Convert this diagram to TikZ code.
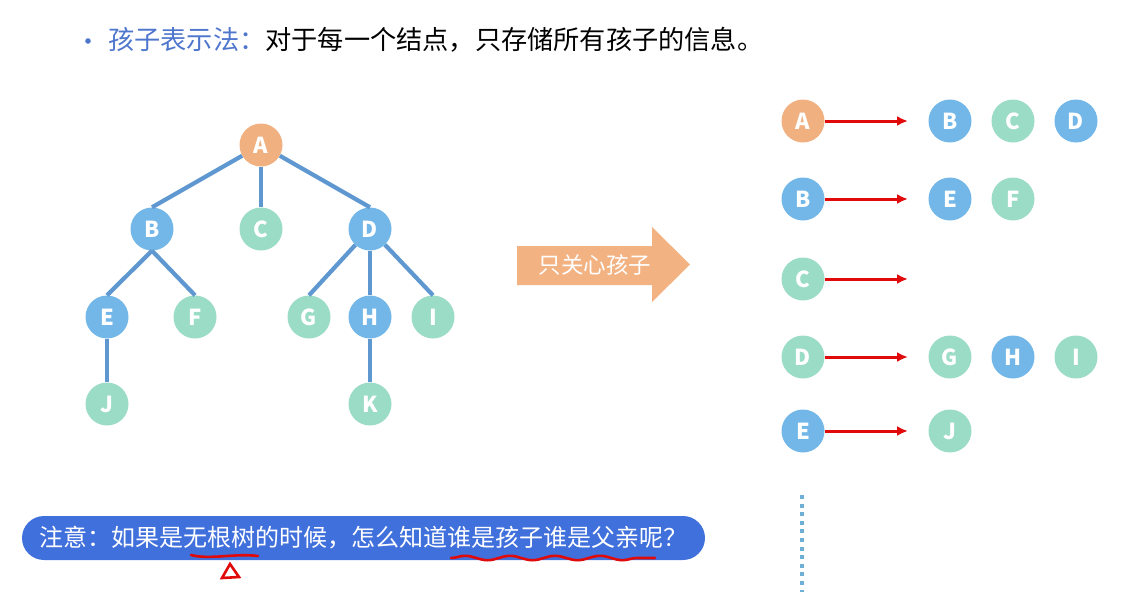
\documentclass[tikz,border=0pt]{standalone}
\usepackage{fontspec}
\setmainfont{Noto Sans CJK SC}
\usepackage{xcolor}
\usetikzlibrary{arrows.meta,decorations.pathmorphing}

\definecolor{rootorange}{RGB}{240,176,128}
\definecolor{innerblue}{RGB}{114,183,232}
\definecolor{leafgreen}{RGB}{155,220,198}
\definecolor{edgeblue}{RGB}{95,152,208}
\definecolor{titleblue}{RGB}{78,118,205}
\definecolor{bannerblue}{RGB}{64,112,220}
\definecolor{linkred}{RGB}{225,10,10}
\definecolor{dotblue}{RGB}{110,175,215}
\definecolor{arrowfill}{RGB}{242,178,130}

\begin{document}
\begin{tikzpicture}[
    x=1pt,y=-1pt,
    >=Latex,
    vtx/.style={
      circle,
      minimum size=43pt,
      inner sep=0pt,
      text=white,
      font=\fontsize{22}{22}\selectfont\bfseries
    },
    rootvtx/.style={vtx,fill=rootorange},
    innervtx/.style={vtx,fill=innerblue},
    leafvtx/.style={vtx,fill=leafgreen},
    treeedge/.style={draw=edgeblue,line width=4.2pt},
    link/.style={
      draw=linkred,
      line width=3pt,
      -{Latex[length=11pt,width=10pt]}
    },
    scribble/.style={draw=linkred,line width=2.6pt,line cap=round}
  ]
  \useasboundingbox (0,0) rectangle (1138,592);

  % ========== Title ==========
  \fill[titleblue] (88,41) circle (2.8pt);
  \node[anchor=west,inner sep=0pt,font=\fontsize{26.2}{28}\selectfont] (title) at (108,40)
    {\textcolor{titleblue}{孩子表示法：}对于每一个结点，只存储所有孩子的信息。};

  % ========== Tree ==========
  \node[rootvtx] (A) at (261,145) {A};
  \node[innervtx] (B) at (152,229) {B};
  \node[leafvtx] (C) at (261,229) {C};
  \node[innervtx] (D) at (370,229) {D};
  \node[innervtx] (E) at (107,317) {E};
  \node[leafvtx] (F) at (195,317) {F};
  \node[leafvtx] (G) at (309,317) {G};
  \node[innervtx] (H) at (370,317) {H};
  \node[leafvtx] (I) at (433,317) {I};
  \node[leafvtx] (J) at (107,404) {J};
  \node[leafvtx] (K) at (370,404) {K};

  \foreach \p/\c in {A/B,A/C,A/D,B.south/E,B.south/F,D/G,D/H,D/I,E/J,H/K}
    \draw[treeedge] (\p) -- (\c.north);

  % ========== Big arrow ==========
  \fill[arrowfill] (517,246) -- (652,246) -- (652,227) -- (690,264.5)
    -- (652,302) -- (652,285) -- (517,285) -- cycle;
  \node[text=white,font=\fontsize{22.5}{24}\selectfont] (care) at (595,265)
    {只关心孩子};

  % ========== Child lists ==========
  \node[rootvtx] (lA) at (803,121) {A};
  \node[innervtx] (lB) at (803,199) {B};
  \node[leafvtx] (lC) at (803,279) {C};
  \node[leafvtx] (lD) at (803,357) {D};
  \node[innervtx] (lE) at (803,431) {E};

  \node[innervtx] (cA1) at (950,121) {B};
  \node[leafvtx] (cA2) at (1013,121) {C};
  \node[innervtx] (cA3) at (1076,121) {D};
  \node[innervtx] (cB1) at (950,199) {E};
  \node[leafvtx] (cB2) at (1013,199) {F};
  \node[leafvtx] (cD1) at (950,357) {G};
  \node[innervtx] (cD2) at (1013,357) {H};
  \node[leafvtx] (cD3) at (1076,357) {I};
  \node[leafvtx] (cE1) at (950,431) {J};

  \foreach \r/\y in {A/121,B/199,C/279,D/357,E/431}{
    \coordinate (t\r) at (908,\y);
    \draw[link] (l\r) -- (t\r);
  }

  % dotted line
  \coordinate (dtop) at (802,495);
  \coordinate (dbot) at (802,592);
  \draw[dotblue,line width=4pt,dash pattern=on 4pt off 4.6pt] (dtop) -- (dbot);

  % ========== Note banner ==========
  \node[fill=bannerblue,rounded corners=22pt,minimum width=683pt,
    minimum height=44pt,text=white,inner sep=0pt,
    font=\fontsize{24}{26}\selectfont] (note) at (363.5,538)
    {注意：如果是无根树的时候，怎么知道谁是孩子谁是父亲呢？};

  % hand-drawn marks
  \draw[scribble] (191,555) .. controls (210,560) and (235,553) .. (258,556);
  \draw[scribble,decorate,decoration={snake,amplitude=2.2pt,segment length=45pt}]
    (451,558) -- (655,558);
  \draw[scribble] (222,578) -- (230,564) -- (239,577) -- cycle;
\end{tikzpicture}
\end{document}
